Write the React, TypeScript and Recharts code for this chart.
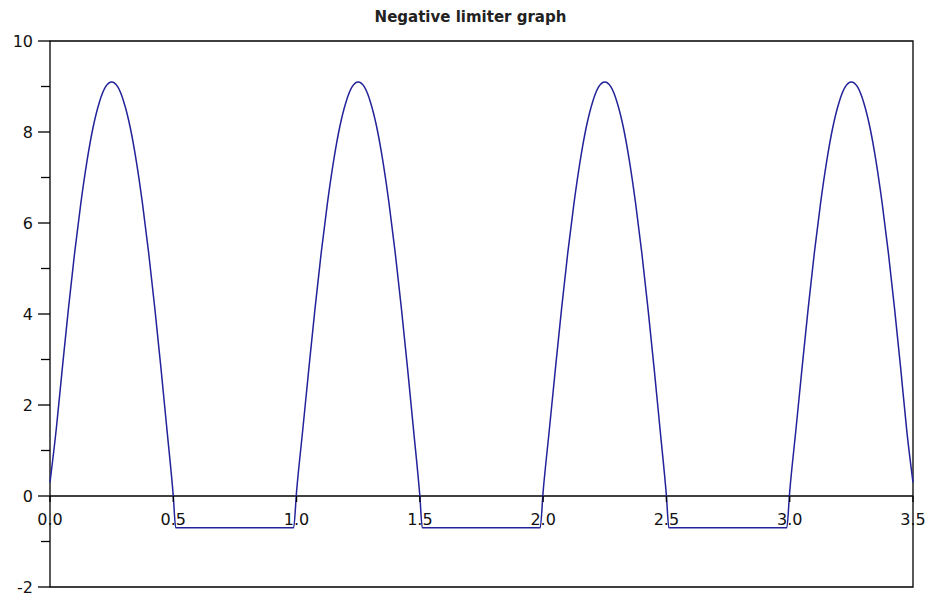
import React from 'react';
import { LineChart, Line, XAxis, YAxis, ReferenceLine, ReferenceArea, ReferenceDot } from 'recharts';

// sample times (s) and limiter output (V)
const sampleTimes = [
  0, 0.025, 0.05, 0.075, 0.1, 0.125, 0.15, 0.175, 0.2, 0.225, 0.25, 0.275, 0.3, 0.325, 0.35, 0.375, 0.4, 0.425, 0.45, 0.475, 0.5, 0.51, 0.988,
  1.0, 1.025, 1.05, 1.075, 1.1, 1.125, 1.15, 1.175, 1.2, 1.225, 1.25, 1.275, 1.3, 1.325, 1.35, 1.375, 1.4, 1.425, 1.45, 1.475, 1.5, 1.51, 1.988,
  2.0, 2.025, 2.05, 2.075, 2.1, 2.125, 2.15, 2.175, 2.2, 2.225, 2.25, 2.275, 2.3, 2.325, 2.35, 2.375, 2.4, 2.425, 2.45, 2.475, 2.5, 2.51, 2.988,
  3.0, 3.025, 3.05, 3.075, 3.1, 3.125, 3.15, 3.175, 3.2, 3.225, 3.25, 3.275, 3.3, 3.325, 3.35, 3.375, 3.4, 3.425, 3.45, 3.475, 3.5,
];

const limiterOutput = [
  0.3, 1.45, 2.81, 4.13, 5.35, 6.43, 7.36, 8.11, 8.65, 8.99, 9.1, 8.99, 8.65, 8.11, 7.36, 6.43, 5.35, 4.13, 2.81, 1.42, 0.0, -0.7, -0.7,
  0.1, 1.45, 2.81, 4.13, 5.35, 6.43, 7.36, 8.11, 8.65, 8.99, 9.1, 8.99, 8.65, 8.11, 7.36, 6.43, 5.35, 4.13, 2.81, 1.42, 0.0, -0.7, -0.7,
  0.1, 1.45, 2.81, 4.13, 5.35, 6.43, 7.36, 8.11, 8.65, 8.99, 9.1, 8.99, 8.65, 8.11, 7.36, 6.43, 5.35, 4.13, 2.81, 1.42, 0.0, -0.7, -0.7,
  0.1, 1.45, 2.81, 4.13, 5.35, 6.43, 7.36, 8.11, 8.65, 8.99, 9.1, 8.99, 8.65, 8.11, 7.36, 6.43, 5.35, 4.13, 2.81, 1.42, 0.3,
];

const xTicks = [0, 0.5, 1, 1.5, 2, 2.5, 3, 3.5];
const yTicks = [-2, -1, 0, 1, 2, 3, 4, 5, 6, 7, 8, 9, 10];

const data = sampleTimes.map((t, i) => ({ t, v: limiterOutput[i] }));

const FONT = '"DejaVu Sans", sans-serif';

const YTick = ({ x, y, payload }: any) => {
  const major = payload.value % 2 === 0;
  return (
    <g>
      <line x1={x - (major ? 12 : 9)} y1={y} x2={x} y2={y} stroke="#000" strokeWidth={1.3} />
      {major && (
        <text x={x - 17} y={y} dy={6} textAnchor="end" fontSize={16} fontFamily={FONT} fill="#111">
          {payload.value}
        </text>
      )}
    </g>
  );
};

const XTickMark = (label: string) => (props: any) => (
  <g>
    <line x1={props.cx} y1={props.cy} x2={props.cx} y2={props.cy + 6} stroke="#000" strokeWidth={1.3} />
    <text x={props.cx} y={props.cy + 29} textAnchor="middle" fontSize={16} fontFamily={FONT} fill="#111">
      {label}
    </text>
  </g>
);

export default function App() {
  return (
    <div style={{ position: 'relative', width: 929, height: 600, background: '#fff', overflow: 'hidden' }}>
      <style>{'html, body { margin: 0; overflow: hidden; } .recharts-surface { overflow: visible; }'}</style>
      <div
        style={{
          position: 'absolute',
          left: 0,
          width: 941,
          top: 8,
          textAlign: 'center',
          fontFamily: FONT,
          fontWeight: 'bold',
          fontSize: 15,
          color: '#222',
        }}
      >
        Negative limiter graph
      </div>
      <LineChart width={929} height={600} data={data} margin={{ top: 41, right: 16, bottom: 13, left: 8 }}>
        <XAxis type="number" dataKey="t" domain={[0, 3.5]} ticks={xTicks} hide />
        <YAxis
          type="number"
          domain={[-2, 10]}
          ticks={yTicks}
          interval={0}
          width={42}
          axisLine={false}
          tickLine={false}
          tickSize={0}
          tickMargin={0}
          tick={<YTick />}
        />
        <ReferenceArea x1={0} x2={3.5} y1={-2} y2={10} fill="none" stroke="#000" strokeWidth={1.3} fillOpacity={0} />
        <ReferenceLine y={0} stroke="#000" strokeWidth={1.3} />
        {xTicks.map((t) => (
          <ReferenceDot key={t} x={t} y={0} r={0} shape={XTickMark(t.toFixed(1))} />
        ))}
        <Line
          type="monotone"
          dataKey="v"
          stroke="#22229a"
          strokeWidth={1.5}
          dot={false}
          isAnimationActive={false}
        />
      </LineChart>
    </div>
  );
}
